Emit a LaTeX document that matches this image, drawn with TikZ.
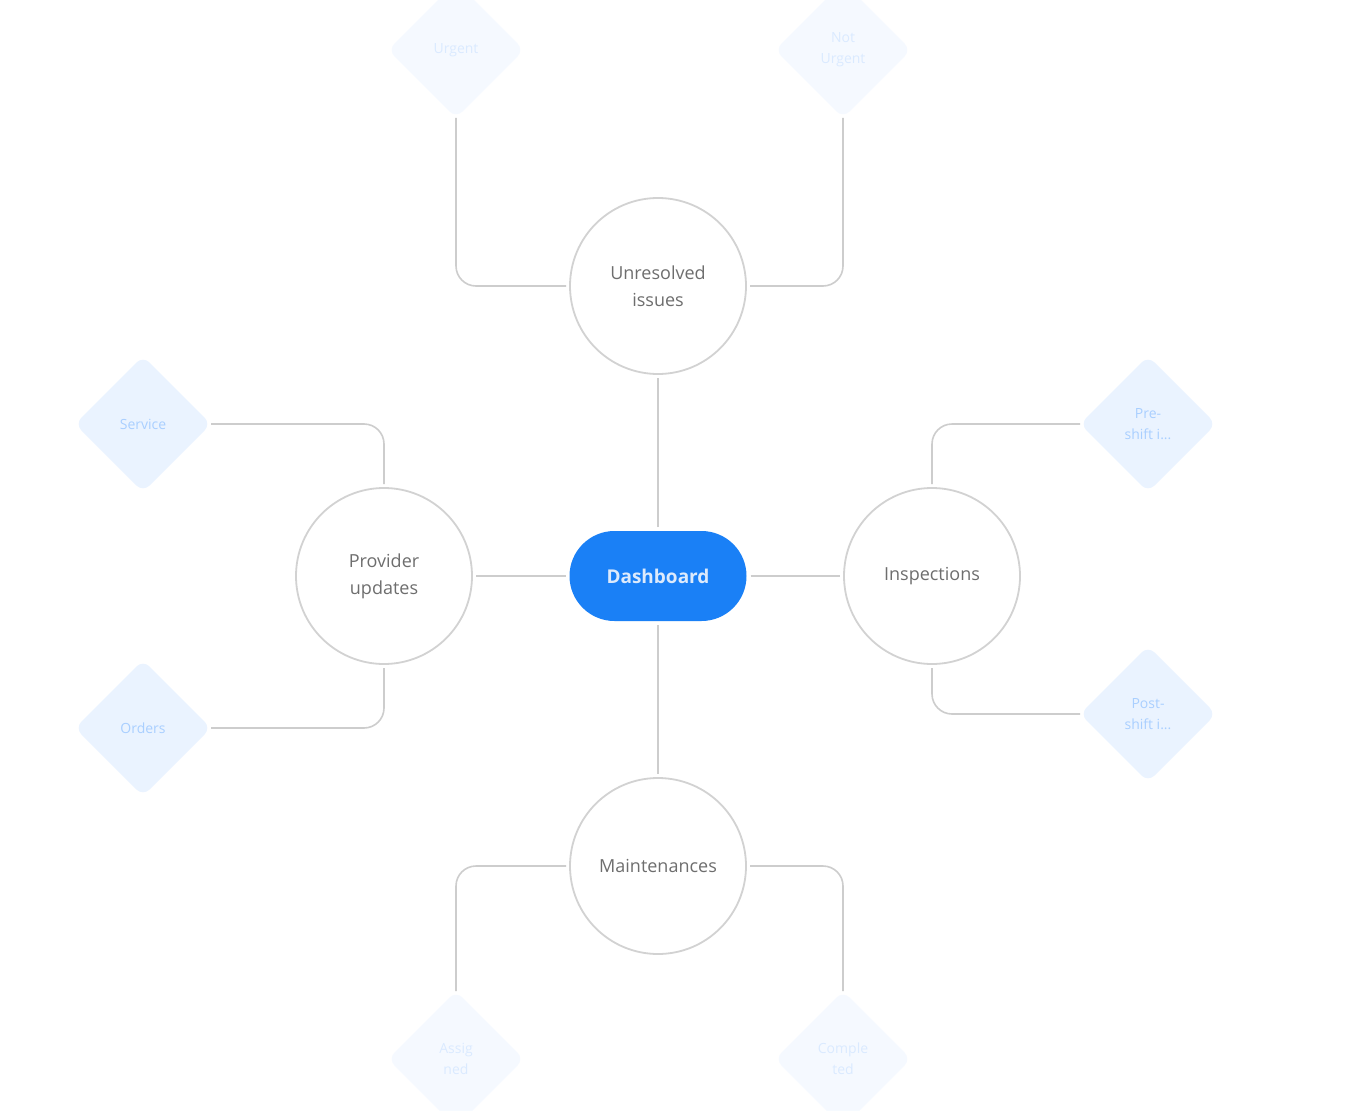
\documentclass[tikz,border=0pt]{standalone}
\usepackage{fontspec}
\setmainfont{Open Sans}
\usetikzlibrary{shapes.geometric}
\definecolor{dashblue}{HTML}{1A80F6}
\definecolor{dashtext}{HTML}{DCEAFC}
\definecolor{circline}{HTML}{D2D2D2}
\definecolor{circtext}{HTML}{6E6E6E}
\definecolor{linkgray}{HTML}{CDCDCD}
\definecolor{diafill}{HTML}{EAF3FF}
\definecolor{diatext}{HTML}{A9CFFF}
\tikzset{
  hub/.style={rectangle, fill=dashblue, draw=none, minimum width=177pt, minimum height=90pt, rounded corners=45pt,
    font=\fontsize{19}{22}\selectfont\bfseries, text=dashtext, outer sep=4pt},
  topic/.style={circle, draw=circline, line width=1.8pt, fill=white, minimum size=176pt, inner sep=0pt,
    font=\fontsize{18}{27}\selectfont, text=circtext, align=center, outer sep=4pt},
  leaf/.style={diamond, aspect=1, fill=diafill, draw=none, minimum width=136pt, minimum height=136pt, inner sep=0pt,
    rounded corners=9pt, font=\fontsize{14}{21}\selectfont, text=diatext, align=center, outer sep=0pt},
  faded/.style={fill opacity=0.45, text opacity=0.35},
  link/.style={draw=linkgray, line width=1.6pt, rounded corners=20pt},
}
\begin{document}
\begin{tikzpicture}[x=1pt,y=-1pt]
\useasboundingbox (0,0) rectangle (1372,1110);
\fill[white] (0,0) rectangle (1372,1110);
% hub
\node[hub] (dash) at (658,576) {Dashboard};
% topics
\node[topic] (unres) at (658,286) {Unresolved\\issues};
\node[topic] (prov) at (384,576) {Provider\\updates};
\node[topic] (insp) at (932,576) {Inspections};
\node[topic] (maint) at (658,866) {Maintenances};
% leaves
\node[leaf, faded] (urg) at (456,50) {Urgent};
\node[leaf, faded] (nurg) at (843,50) {Not\\Urgent};
\node[leaf] (serv) at (143,424) {Service};
\node[leaf] (ord) at (143,728) {Orders};
\node[leaf] (pre) at (1148,424) {Pre-\\shift i...};
\node[leaf] (post) at (1148,714) {Post-\\shift i...};
\node[leaf, faded] (asg) at (456,1059) {Assig\\ned};
\node[leaf, faded] (cmp) at (843,1059) {Comple\\ted};
% hub links
\draw[link] (dash.north) -- (unres.south);
\draw[link] (dash.south) -- (maint.north);
\draw[link] (dash.west) -- (prov.east);
\draw[link] (dash.east) -- (insp.west);
% leaf links
\draw[link] (unres.west) -| (urg.south);
\draw[link] (unres.east) -| (nurg.south);
\draw[link] (prov.north) |- (serv.east);
\draw[link] (prov.south) |- (ord.east);
\draw[link] (insp.north) |- (pre.west);
\draw[link] (insp.south) |- (post.west);
\draw[link] (maint.west) -| (asg.north);
\draw[link] (maint.east) -| (cmp.north);
\end{tikzpicture}
\end{document}
